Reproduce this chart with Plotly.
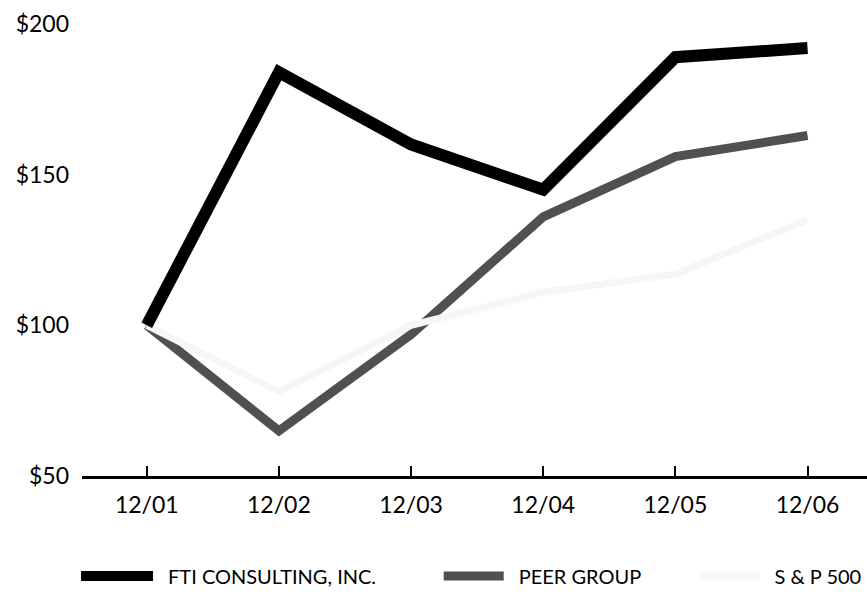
import plotly.graph_objects as go

years = ["12/01", "12/02", "12/03", "12/04", "12/05", "12/06"]
fti = [100, 184, 160, 145, 189, 192]
peer = [100, 65, 97, 136, 156, 163]
sp500 = [100, 78, 100, 111, 117, 135]
y_ticks = [50, 100, 150, 200]
y_tick_text = ["$50", "$100", "$150", "$200"]
series_names = ["FTI CONSULTING, INC.", "PEER GROUP", "S & P 500"]

FONT = "Lato, 'Open Sans', sans-serif"
GAP = "\u2002"

fig = go.Figure()
fig.add_trace(go.Scatter(x=years, y=peer, mode="lines", name=GAP + series_names[1],
                         line=dict(color="#505050", width=9), legend="legend2"))
fig.add_trace(go.Scatter(x=years, y=sp500, mode="lines", name=GAP + series_names[2],
                         line=dict(color="#f6f6f6", width=7), legend="legend3"))
fig.add_trace(go.Scatter(x=years, y=fti, mode="lines", name=GAP + series_names[0],
                         line=dict(color="#000000", width=12), legend="legend"))

def leg(x, iw):
    return dict(orientation="h", xref="container", yref="container",
                yanchor="middle", y=0.04, xanchor="left", x=x,
                font=dict(family=FONT, size=20, color="#000"),
                bgcolor="rgba(0,0,0,0)", itemwidth=iw, borderwidth=0)

fig.update_layout(
    width=867, height=600,
    margin=dict(l=82, r=0, t=24, b=124),
    paper_bgcolor="white", plot_bgcolor="white",
    font=dict(family=FONT, size=23, color="#000"),
    showlegend=True,
    legend=leg(0.0877, 72),
    legend2=leg(0.506, 60),
    legend3=leg(0.801, 60),
    xaxis=dict(type="category", range=[-0.49, 5.45], showgrid=False, zeroline=False,
               showline=True, linecolor="#000", linewidth=3,
               ticks="inside", ticklen=10, tickwidth=2, tickcolor="#000",
               ticklabelstandoff=6,
               tickfont=dict(family=FONT, size=23, color="#000")),
    yaxis=dict(range=[50, 200], showgrid=False, zeroline=False, showline=False,
               tickvals=y_ticks, ticktext=y_tick_text, ticks="",
               ticklabelstandoff=12,
               tickfont=dict(family=FONT, size=23, color="#000")),
)

fig.write_html("out.html", config={"displayModeBar": False},
               post_script="document.body.style.margin='0';")
